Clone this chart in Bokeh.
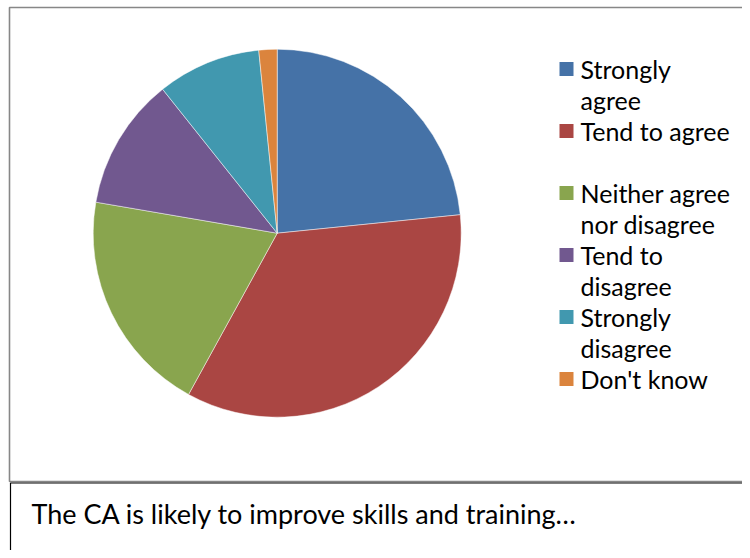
import math
from bokeh.plotting import figure
from bokeh.models import Range1d, ColumnDataSource
from bokeh.core.properties import value
from bokeh.embed import file_html
from bokeh.resources import INLINE

# ---- data ----
categories = ["Strongly agree", "Tend to agree", "Neither agree nor disagree",
              "Tend to disagree", "Strongly disagree", "Don't know"]
values = [23.4, 34.6, 19.7, 11.6, 9.1, 1.6]
colors = ["#4572A7", "#AA4643", "#89A54E", "#71588F", "#4198AF", "#DB843D"]
legend_labels = ["Strongly\nagree", "Tend to agree", "Neither agree\nnor disagree",
                 "Tend to\ndisagree", "Strongly\ndisagree", "Don't know"]
caption = "The CA is likely to improve skills and training\u2026"

W, H = 742, 550
p = figure(width=W, height=H, x_range=Range1d(0, W), y_range=Range1d(0, H),
           output_backend="svg", toolbar_location=None,
           x_axis_location=None, y_axis_location=None, min_border=0)
p.grid.visible = False
p.outline_line_color = None
p.background_fill_color = "white"
p.border_fill_color = "white"

# boxes
p.quad(left=9, right=W + 20, top=H - 7, bottom=H - 481, fill_color=None,
       line_color="#878787", line_width=1.6)
p.quad(left=10, right=W + 20, top=H - 482.5, bottom=-20, fill_color=None,
       line_color="#000000", line_width=1.2)

# pie
total = sum(values)
starts, ends = [], []
acc = 0.0
for v in values:
    a0 = acc / total * 2 * math.pi
    acc += v
    a1 = acc / total * 2 * math.pi
    starts.append(math.pi / 2 - a0)
    ends.append(math.pi / 2 - a1)
src = ColumnDataSource(dict(cat=categories, val=values, color=colors,
                            start=starts, end=ends))
cx, cy, r = 276.7, H - 232.7, 184
p.wedge(x=cx, y=cy, radius=r, start_angle="start", end_angle="end",
        direction="clock", fill_color="color", line_color="white",
        line_alpha=0.6, line_width=0.8, source=src)

# legend
first_line = 68.5   # screen y of first line centre
step = 62           # per item
line_h = 31         # per text line
sq_y, row_y, row_t = [], [], []
for i, lab in enumerate(legend_labels):
    y0 = first_line + step * i
    sq_y.append(H - y0)
    for j, part in enumerate(lab.split("\n")):
        row_t.append(part)
        row_y.append(H - (y0 + j * line_h))
leg = ColumnDataSource(dict(color=colors, y=sq_y))
p.rect(x=566, y="y", width=14, height=14, fill_color="color",
       line_color=None, source=leg)
rows = ColumnDataSource(dict(text=row_t, y=row_y))
p.text(x=580, y="y", text="text", text_font=value("Lato"),
       text_font_size="25px", text_baseline="middle", text_color="#000000",
       source=rows)

# caption
p.text(x=[31], y=[H - 513], text=[caption], text_font=value("Lato"),
       text_font_size="27px", text_baseline="middle", text_color="#000000")

open("out.html", "w").write(file_html(p, INLINE))
